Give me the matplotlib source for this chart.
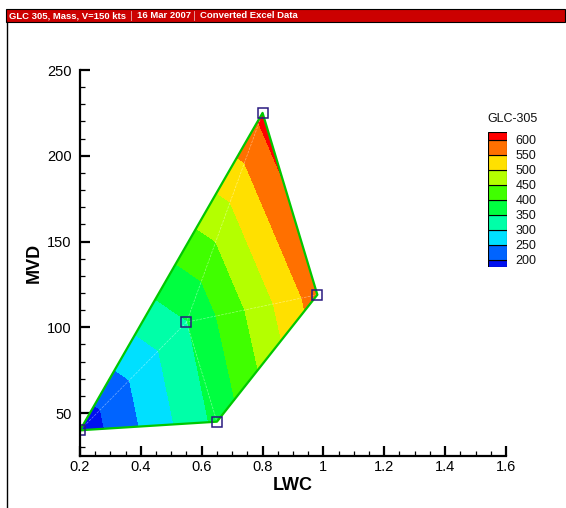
import numpy as np
import matplotlib
matplotlib.use('Agg')
import matplotlib.pyplot as plt
import matplotlib.tri as mtri
from matplotlib.patches import Rectangle
from matplotlib.lines import Line2D

plt.rcParams['font.family'] = ['Liberation Sans', 'DejaVu Sans']

# data points (LWC, MVD) and GLC-305 value at each
lwc = [0.2, 0.65, 0.55, 0.8, 0.98]
mvd = [40, 45, 103, 225, 119]
glc = [165, 362, 348, 613, 577]
tris = [[0, 1, 2], [0, 2, 3], [2, 3, 4], [1, 4, 2]]
hull = [0, 1, 4, 3, 0]

levels = [200, 250, 300, 350, 400, 450, 500, 550, 600]
band_colors = ['#0010f0', '#0064ff', '#00e0ff', '#00ffa8', '#00ff40',
               '#40ff00', '#b4ff00', '#ffe000', '#ff7000', '#ff0000']

xticks = [0.2, 0.4, 0.6, 0.8, 1.0, 1.2, 1.4, 1.6]
xticklabels = ['0.2', '0.4', '0.6', '0.8', '1', '1.2', '1.4', '1.6']
yticks = [50, 100, 150, 200, 250]

W, H = 566, 508
fig = plt.figure(figsize=(W / 100, H / 100), dpi=100)

# main plot
ax = fig.add_axes([80 / W, 1 - 456 / H, 426 / W, 386 / H])
tri = mtri.Triangulation(lwc, mvd, tris)
ax.tricontourf(tri, glc, levels=[-1e4] + levels + [1e4], colors=band_colors, antialiased=False)
ax.triplot(tri, color='white', lw=0.5, alpha=0.45, ls='--')
ax.plot([lwc[i] for i in hull], [mvd[i] for i in hull], color='#00c800', lw=1.6)
ax.plot(lwc, mvd, 's', ms=7.5, mfc='none', mec='#2a1a80', mew=1.1)

ax.set_xlim(0.2, 1.6)
ax.set_ylim(25, 250)
for s in ['top', 'right']:
    ax.spines[s].set_visible(False)
for s in ['left', 'bottom']:
    ax.spines[s].set_linewidth(1.6)
ax.set_xticks(xticks)
ax.set_xticklabels(xticklabels)
ax.set_yticks(yticks)
ax.set_xticks(np.arange(0.25, 1.6, 0.05), minor=True)
ax.set_yticks(np.arange(30, 250, 10), minor=True)
ax.tick_params(which='major', direction='in', length=7, width=1.6, labelsize=10.5)
ax.tick_params(which='minor', direction='in', length=3.5, width=0.9)
ax.tick_params(axis='y', which='major', pad=6)
ax.tick_params(axis='x', which='major', pad=3)
ax.set_xlabel('LWC', fontsize=13, fontweight='bold', labelpad=2)
ax.set_ylabel('MVD', fontsize=13, fontweight='bold', labelpad=3)

# legend
lax = fig.add_axes([488 / W, 1 - 267 / H, 19 / W, 135 / H])
edges = [175] + levels + [625]
for k in range(len(band_colors)):
    lax.add_patch(Rectangle((0, edges[k]), 1, edges[k + 1] - edges[k],
                            facecolor=band_colors[k], edgecolor='black', lw=0.8))
lax.set_xlim(0, 1)
lax.set_ylim(175, 625)
lax.axis('off')
for lv in levels:
    lax.text(1.45, lv - 6, str(lv), fontsize=9, va='center', ha='left', color='#111111')
lax.text(1.3, 668, 'GLC-305', fontsize=9, va='center', ha='center', color='#111111')

# header bar and frame
fig.add_artist(Rectangle((6 / W, 1 - 22 / H), 559 / W, 13 / H, transform=fig.transFigure,
                         facecolor='#cc0000', edgecolor='black', lw=0.8))
hdr_y = 1 - 15.5 / H
fig.text(9 / W, hdr_y, 'GLC 305, Mass, V=150 kts', color='white', fontsize=6.8,
         fontweight='bold', va='center', ha='left')
fig.text(137 / W, hdr_y, '16 Mar 2007', color='white', fontsize=6.8,
         fontweight='bold', va='center', ha='left')
fig.text(200 / W, hdr_y, 'Converted Excel Data', color='white', fontsize=6.8,
         fontweight='bold', va='center', ha='left')
for sx in [131, 194]:
    fig.add_artist(Line2D([sx / W, sx / W], [1 - 20 / H, 1 - 11 / H], color='#e8b0b0', lw=0.6))
fig.add_artist(Line2D([7 / W, 7 / W], [0, 1 - 22 / H], color='black', lw=1.0))

fig.savefig('out.png', dpi=100)
